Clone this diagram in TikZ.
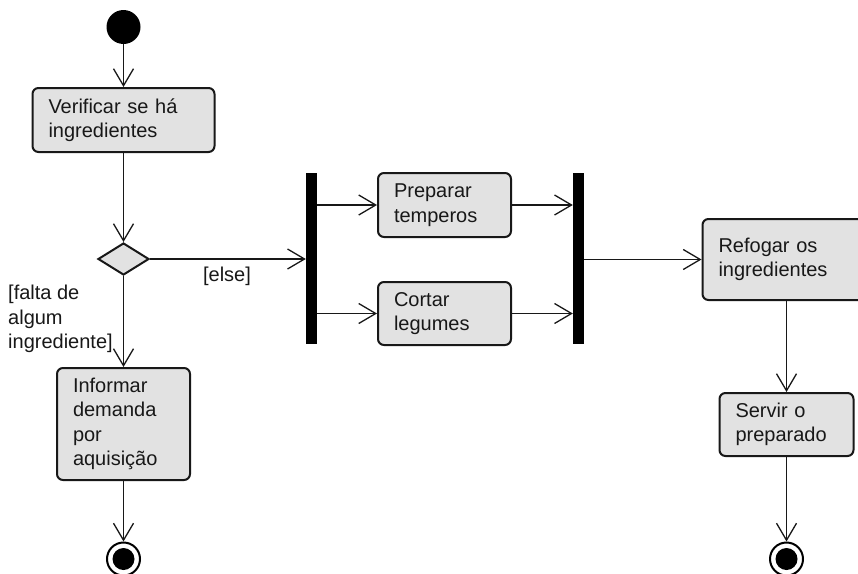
\documentclass[tikz,border=0pt]{standalone}
\usepackage{fontspec}
\setmainfont{Liberation Sans}
\usetikzlibrary{arrows.meta,shapes.geometric}
\definecolor{boxfill}{RGB}{226,226,226}
\definecolor{ln}{RGB}{24,24,24}
\begin{document}
\begin{tikzpicture}[x=1pt,y=-1pt,
  font=\fontsize{20}{24.5}\selectfont,
  act/.style={draw=ln, line width=2pt, fill=boxfill, rounded corners=6pt,
    align=left, inner xsep=16pt, inner ysep=0pt, text=ln},
  arr/.style={draw=ln, line width=1.3pt,
    -{Straight Barb[length=17pt,width=20pt,line width=1.3pt]}},
  bar/.style={fill=black, draw=none, minimum width=11pt, minimum height=171pt, inner sep=0pt},
  startnode/.style={circle, fill=black, minimum size=34pt, inner sep=0pt},
  endnode/.style={circle, draw=black, line width=2pt, fill=white, minimum size=33pt, inner sep=0pt},
  guard/.style={inner sep=0pt, text=ln}]
\useasboundingbox (0,0) rectangle (858,573);
\clip (0,0) rectangle (858,573);
\fill[white] (0,0) rectangle (858,573);

\node[startnode] (start) at (123.5,27) {};
\node[act, text width=150pt, minimum height=64pt] (verif) at (123.5,120) {Verificar se há\\ingredientes};
\node[diamond, draw=ln, line width=2pt, fill=boxfill, minimum width=51pt, minimum height=32pt, inner sep=0pt] (dec) at (123.5,259) {};
\node[act, text width=101pt, minimum height=112pt] (inform) at (123.5,424) {Informar\\demanda\\por\\aquisição};
\node[endnode] (endL) at (123.5,559) {};
\fill[black] (endL.center) circle (11pt);

\node[bar] (fork) at (311.5,258.5) {};
\node[act, text width=101pt, minimum height=64pt] (prep) at (444.5,205) {Preparar\\temperos};
\node[act, text width=101pt, minimum height=63pt] (cortar) at (444.5,313.5) {Cortar\\legumes};
\node[bar] (join) at (578.5,258.5) {};
\node[act, text width=136pt, minimum height=81pt] (refogar) at (786.5,259.5) {Refogar os\\ingredientes};
\node[act, text width=102pt, minimum height=63pt] (servir) at (786.5,424.5) {Servir o\\preparado};
\node[endnode] (endR) at (786.5,559) {};
\fill[black] (endR.center) circle (11pt);

\node[guard, anchor=base] (elselbl) at (227,281) {[else]};
\node[guard, anchor=north west, align=left] (faltalbl) at (8,285) {[falta de\\algum\\ingrediente]};

\draw[arr] (start.south) -- (verif.north);
\draw[arr] (verif.south) -- (dec.north);
\draw[arr] (dec.east) -- (fork.west |- dec.east);
\draw[arr] (dec.south) -- (inform.north);
\draw[arr] (inform.south) -- (endL.north);
\draw[arr] (fork.east |- prep.west) -- (prep.west);
\draw[arr] (fork.east |- cortar.west) -- (cortar.west);
\draw[arr] (prep.east) -- (join.west |- prep.east);
\draw[arr] (cortar.east) -- (join.west |- cortar.east);
\draw[arr] (join.east |- refogar.west) -- (refogar.west);
\draw[arr] (refogar.south) -- (servir.north);
\draw[arr] (servir.south) -- (endR.north);
\end{tikzpicture}
\end{document}
